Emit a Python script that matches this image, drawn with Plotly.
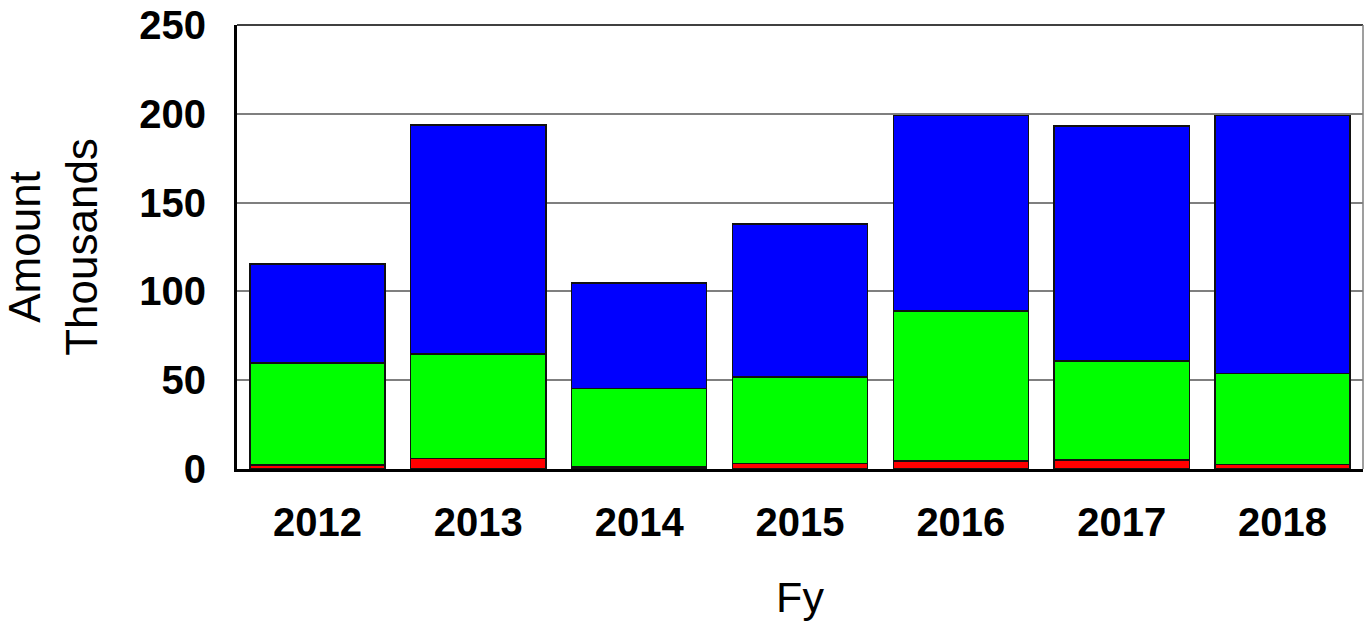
import plotly.graph_objects as go

# Fiscal years and stacked amounts (thousands)
years = ["2012", "2013", "2014", "2015", "2016", "2017", "2018"]
red_vals = [2.3, 6.0, 1.0, 3.2, 4.5, 5.1, 2.6]
green_vals = [57.4, 58.8, 44.4, 48.5, 84.5, 55.7, 51.3]
blue_vals = [55.8, 129.0, 59.4, 86.3, 110.0, 132.4, 145.1]

y_ticks = [0, 50, 100, 150, 200, 250]

font_family = "Liberation Sans, Arial, sans-serif"
outline = dict(color="#111111", width=1.5)

fig = go.Figure()
for vals, color, name in [
    (red_vals, "#ff0000", "Red"),
    (green_vals, "#00ff00", "Green"),
    (blue_vals, "#0000ff", "Blue"),
]:
    fig.add_trace(go.Bar(x=years, y=vals, name=name,
                         marker=dict(color=color, line=outline)))

fig.update_layout(
    width=1366, height=621,
    barmode="stack", bargap=0.16,
    showlegend=False,
    plot_bgcolor="white", paper_bgcolor="white",
    margin=dict(l=237, r=3, t=25, b=152),
    font=dict(family=font_family, color="black"),
)

fig.update_xaxes(
    type="category",
    showline=True, linecolor="black", linewidth=3,
    showgrid=False, ticks="",
    tickfont=dict(size=40, family=font_family, weight="bold"),
    ticklabelstandoff=16,
    title=dict(text="Fy", font=dict(size=43), standoff=39),
)

fig.update_yaxes(
    range=[0, 250], tickvals=y_ticks,
    showline=True, linecolor="black", linewidth=3,
    showgrid=True, gridcolor="#7f7f7f", gridwidth=1.5,
    zeroline=False, ticks="",
    tickfont=dict(size=40, family=font_family, weight="bold"),
    ticklabelstandoff=20,
    title=dict(text="Amount<br>Thousands", font=dict(size=44), standoff=38),
)

# Frame on the top and right edges of the plotting area
fig.add_shape(type="line", xref="paper", yref="paper", x0=0, x1=1, y0=1, y1=1,
              line=dict(color="black", width=1.5))
fig.add_shape(type="line", xref="paper", yref="paper", x0=1, x1=1, y0=0, y1=1,
              line=dict(color="#7f7f7f", width=1.5))

fig.write_html("out.html")
